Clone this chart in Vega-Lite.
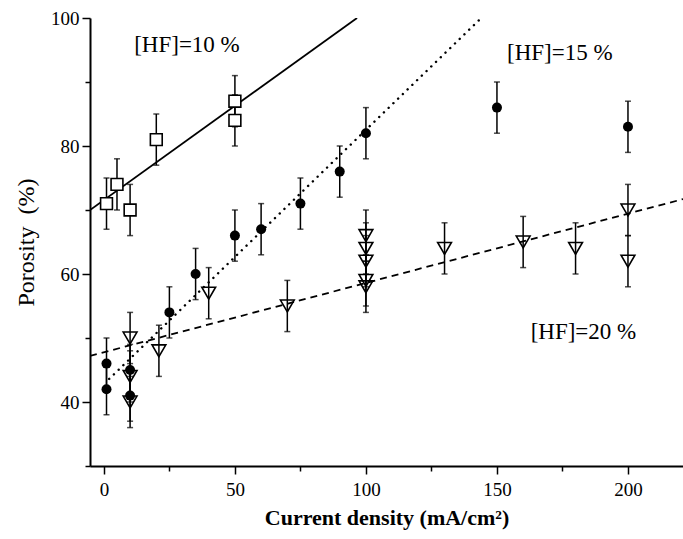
{
  "$schema": "https://vega.github.io/schema/vega-lite/v6.json",
  "autosize": "none",
  "width": 593,
  "height": 448,
  "padding": {"left": 90, "top": 18, "right": 0, "bottom": 73},
  "background": "white",
  "config": {
    "view": {"stroke": null},
    "font": "Liberation Serif",
    "axis": {"grid": false, "domainColor": "black", "domainWidth": 2, "tickColor": "black", "tickWidth": 1.5, "labelColor": "black", "titleColor": "black", "labelFont": "Liberation Serif", "titleFont": "Liberation Serif", "labelFontSize": 19}
  },
  "datasets": {
    "pts": [
      {"hf": "10", "x": 1, "y": 71, "lo": 67, "hi": 75},
      {"hf": "10", "x": 5, "y": 74, "lo": 70, "hi": 78},
      {"hf": "10", "x": 10, "y": 70, "lo": 66, "hi": 74},
      {"hf": "10", "x": 20, "y": 81, "lo": 77, "hi": 85},
      {"hf": "10", "x": 50, "y": 87, "lo": 83, "hi": 91},
      {"hf": "10", "x": 50, "y": 84, "lo": 80, "hi": 88},
      {"hf": "15", "x": 1, "y": 46, "lo": 42, "hi": 50},
      {"hf": "15", "x": 1, "y": 42, "lo": 38, "hi": 46},
      {"hf": "15", "x": 10, "y": 45, "lo": 41, "hi": 49},
      {"hf": "15", "x": 10, "y": 41, "lo": 37, "hi": 45},
      {"hf": "15", "x": 25, "y": 54, "lo": 50, "hi": 58},
      {"hf": "15", "x": 35, "y": 60, "lo": 56, "hi": 64},
      {"hf": "15", "x": 50, "y": 66, "lo": 62, "hi": 70},
      {"hf": "15", "x": 60, "y": 67, "lo": 63, "hi": 71},
      {"hf": "15", "x": 75, "y": 71, "lo": 67, "hi": 75},
      {"hf": "15", "x": 90, "y": 76, "lo": 72, "hi": 80},
      {"hf": "15", "x": 100, "y": 82, "lo": 78, "hi": 86},
      {"hf": "15", "x": 150, "y": 86, "lo": 82, "hi": 90},
      {"hf": "15", "x": 200, "y": 83, "lo": 79, "hi": 87},
      {"hf": "20", "x": 10, "y": 50, "lo": 46, "hi": 54},
      {"hf": "20", "x": 10, "y": 44, "lo": 40, "hi": 48},
      {"hf": "20", "x": 10, "y": 40, "lo": 36, "hi": 44},
      {"hf": "20", "x": 21, "y": 48, "lo": 44, "hi": 52},
      {"hf": "20", "x": 40, "y": 57, "lo": 53, "hi": 61},
      {"hf": "20", "x": 70, "y": 55, "lo": 51, "hi": 59},
      {"hf": "20", "x": 100, "y": 66, "lo": 62, "hi": 70},
      {"hf": "20", "x": 100, "y": 64, "lo": 60, "hi": 68},
      {"hf": "20", "x": 100, "y": 62, "lo": 58, "hi": 66},
      {"hf": "20", "x": 100, "y": 59, "lo": 55, "hi": 63},
      {"hf": "20", "x": 100, "y": 58, "lo": 54, "hi": 62},
      {"hf": "20", "x": 130, "y": 64, "lo": 60, "hi": 68},
      {"hf": "20", "x": 160, "y": 65, "lo": 61, "hi": 69},
      {"hf": "20", "x": 180, "y": 64, "lo": 60, "hi": 68},
      {"hf": "20", "x": 200, "y": 70, "lo": 66, "hi": 74},
      {"hf": "20", "x": 200, "y": 62, "lo": 58, "hi": 66}
    ],
    "fits": [
      {"hf": "10", "x": -5.3, "y": 70},
      {"hf": "10", "x": 96.6, "y": 100},
      {"hf": "15", "x": 2, "y": 43.6},
      {"hf": "15", "x": 144, "y": 100},
      {"hf": "20", "x": -5.3, "y": 47.2},
      {"hf": "20", "x": 221, "y": 71.7}
    ],
    "labels": [
      {"label": "[HF]=10 %", "x": 31.7, "y": 95.8},
      {"label": "[HF]=15 %", "x": 174, "y": 94.5},
      {"label": "[HF]=20 %", "x": 183, "y": 50.9}
    ]
  },
  "encoding": {
    "x": {"field": "x", "type": "quantitative", "scale": {"domain": [-5.3, 221], "nice": false, "zero": false},
      "axis": {"values": [0, 25, 50, 75, 100, 125, 150, 175, 200], "labelExpr": "datum.value % 50 === 0 ? datum.label : ''",
        "tickSize": {"condition": {"test": "datum.value % 50 === 0", "value": 8}, "value": 5},
        "labelPadding": 6, "title": "Current density (mA/cm²)", "titleFontSize": 22, "titleFontWeight": "bold", "titlePadding": 8}}
  },
  "layer": [
    {
      "data": {"name": "fits"},
      "transform": [{"filter": "datum.hf === '10'"}],
      "mark": {"type": "line", "color": "black", "strokeWidth": 1.8, "clip": true},
      "encoding": {
        "y": {"field": "y", "type": "quantitative", "scale": {"domain": [30, 100], "nice": false, "zero": false},
          "axis": {"values": [30, 40, 50, 60, 70, 80, 90, 100], "labelExpr": "datum.value % 20 === 0 ? datum.label : ''",
            "tickSize": {"condition": {"test": "datum.value % 20 === 0", "value": 8}, "value": 5},
            "labelPadding": 3, "title": "Porosity\u00a0\u00a0(%)", "titleFontSize": 24, "titleFontWeight": "normal", "titlePadding": 12}}
      }
    },
    {
      "data": {"name": "fits"},
      "transform": [{"filter": "datum.hf === '15'"}],
      "mark": {"type": "line", "color": "black", "strokeWidth": 2.4, "strokeCap": "round", "strokeDash": [0.1, 6.5], "clip": true},
      "encoding": {"y": {"field": "y", "type": "quantitative"}}
    },
    {
      "data": {"name": "fits"},
      "transform": [{"filter": "datum.hf === '20'"}],
      "mark": {"type": "line", "color": "black", "strokeWidth": 1.8, "strokeDash": [7, 5], "clip": true},
      "encoding": {"y": {"field": "y", "type": "quantitative"}}
    },
    {
      "data": {"name": "pts"},
      "mark": {"type": "rule", "color": "black", "strokeWidth": 1.5},
      "encoding": {
        "y": {"field": "lo", "type": "quantitative"},
        "y2": {"field": "hi"}
      }
    },
    {
      "data": {"name": "pts"},
      "mark": {"type": "tick", "orient": "horizontal", "color": "black", "size": 6, "thickness": 1.5},
      "encoding": {"y": {"field": "lo", "type": "quantitative"}}
    },
    {
      "data": {"name": "pts"},
      "mark": {"type": "tick", "orient": "horizontal", "color": "black", "size": 6, "thickness": 1.5},
      "encoding": {"y": {"field": "hi", "type": "quantitative"}}
    },
    {
      "data": {"name": "pts"},
      "transform": [{"filter": "datum.hf === '10'"}],
      "mark": {"type": "point", "shape": "square", "size": 140, "filled": false, "fill": "white", "stroke": "black", "strokeWidth": 1.6, "opacity": 1},
      "encoding": {"y": {"field": "y", "type": "quantitative"}}
    },
    {
      "data": {"name": "pts"},
      "transform": [{"filter": "datum.hf === '15'"}],
      "mark": {"type": "point", "shape": "circle", "size": 100, "filled": true, "color": "black", "opacity": 1},
      "encoding": {"y": {"field": "y", "type": "quantitative"}}
    },
    {
      "data": {"name": "pts"},
      "transform": [{"filter": "datum.hf === '20'"}],
      "mark": {"type": "point", "shape": "triangle-down", "size": 190, "filled": false, "stroke": "black", "strokeWidth": 1.6, "opacity": 1},
      "encoding": {"y": {"field": "y", "type": "quantitative"}}
    },
    {
      "data": {"name": "labels"},
      "mark": {"type": "text", "font": "Liberation Serif", "fontSize": 23, "color": "black", "align": "center", "baseline": "middle"},
      "encoding": {
        "y": {"field": "y", "type": "quantitative"},
        "text": {"field": "label"}
      }
    }
  ]
}
